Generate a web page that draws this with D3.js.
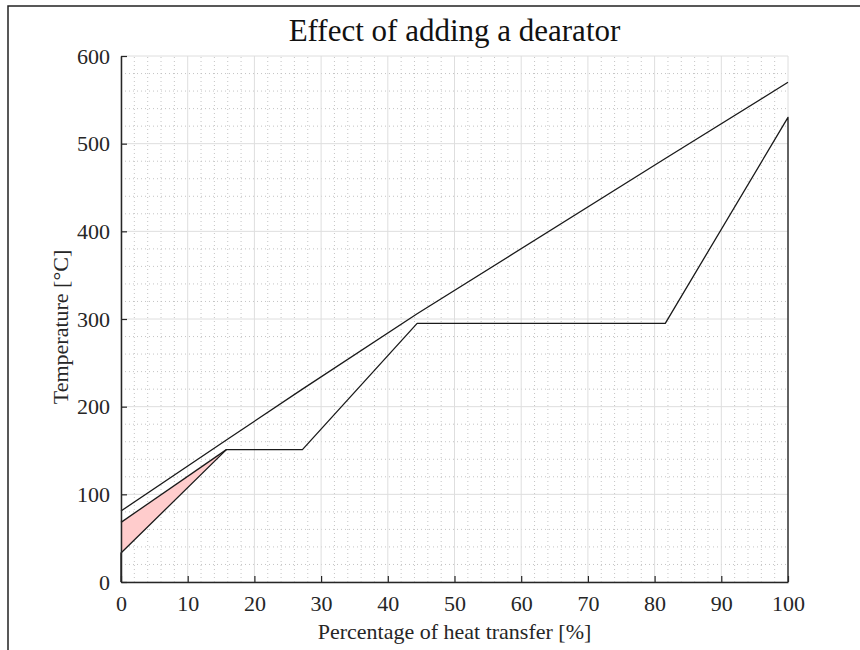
<!DOCTYPE html>
<html>
<head>
<meta charset="utf-8">
<script src="https://cdn.jsdelivr.net/npm/d3@7"></script>
<style>
  body { margin: 0; background: #fff; }
  svg { display: block; font-family: "Liberation Serif", "DejaVu Serif", serif; }
</style>
</head>
<body>
<svg id="chart" width="860" height="650"></svg>
<script>
// heat transfer share [%] and temperatures [°C]
var gasX = [0, 15.8, 27.2, 44.4, 81.6, 100];
var gasT = [81, 162, 220, 306, 483, 570];

var waterX = [0, 0, 15.8, 27.2, 44.4, 81.6, 100, 100];
var waterT = [0, 33, 151, 151, 295, 295, 530, 0];

// feed water line without the dearator
var noDeaX = [0, 15.8];
var noDeaT = [68, 151];

var xTicks = [0, 10, 20, 30, 40, 50, 60, 70, 80, 90, 100];
var yTicks = [0, 100, 200, 300, 400, 500, 600];

var margin = { left: 121, right: 72, top: 56, bottom: 68 };
var W = 860, H = 650;

var svg = d3.select('#chart');

var x = d3.scaleLinear().domain([0, 100]).range([margin.left, W - margin.right]);
var y = d3.scaleLinear().domain([0, 600]).range([H - margin.bottom, margin.top]);

// outer frame (top + left only)
svg.append('path')
    .attr('d', 'M8,650 L8,6 L860,6')
    .attr('fill', 'none')
    .attr('stroke', '#222')
    .attr('stroke-width', 1.5);

// minor grid, dotted
var g = svg.append('g');
g.selectAll('.minor-x').data(d3.range(0, 101, 2).filter(function(d){ return d % 10 !== 0; }))
    .enter().append('line')
    .attr('x1', function(d){ return x(d); }).attr('x2', function(d){ return x(d); })
    .attr('y1', y(0)).attr('y2', y(600))
    .attr('stroke', '#bdbdbd').attr('stroke-width', 0.9).attr('stroke-dasharray', '1,3');
g.selectAll('.minor-y').data(d3.range(0, 601, 20).filter(function(d){ return d % 100 !== 0; }))
    .enter().append('line')
    .attr('x1', x(0)).attr('x2', x(100))
    .attr('y1', function(d){ return y(d); }).attr('y2', function(d){ return y(d); })
    .attr('stroke', '#bdbdbd').attr('stroke-width', 0.9).attr('stroke-dasharray', '1,3');

// major grid
g.selectAll('.major-x').data(xTicks).enter().append('line')
    .attr('x1', function(d){ return x(d); }).attr('x2', function(d){ return x(d); })
    .attr('y1', y(0)).attr('y2', y(600))
    .attr('stroke', '#dedede').attr('stroke-width', 1);
g.selectAll('.major-y').data(yTicks).enter().append('line')
    .attr('x1', x(0)).attr('x2', x(100))
    .attr('y1', function(d){ return y(d); }).attr('y2', function(d){ return y(d); })
    .attr('stroke', '#dedede').attr('stroke-width', 1);

// red patch between the two feed water lines
var patch = [[noDeaX[0], noDeaT[0]], [noDeaX[1], noDeaT[1]], [waterX[1], waterT[1]]];
svg.append('path')
    .attr('d', d3.line().x(function(d){ return x(d[0]); }).y(function(d){ return y(d[1]); })(patch) + 'Z')
    .attr('fill', '#ffcccc')
    .attr('stroke', 'none');

var line = d3.line()
    .x(function(d){ return x(d[0]); })
    .y(function(d){ return y(d[1]); });

function drawLine(xs, ts) {
    svg.append('path')
        .datum(d3.zip(xs, ts))
        .attr('d', line)
        .attr('fill', 'none')
        .attr('stroke', '#1a1a1a')
        .attr('stroke-width', 1.3)
        .attr('stroke-linejoin', 'round');
}
drawLine(gasX, gasT);
drawLine(waterX, waterT);
drawLine(noDeaX, noDeaT);

// axes, ticks pointing inward
var xAxis = svg.append('g')
    .attr('transform', 'translate(0,' + y(0) + ')')
    .call(d3.axisBottom(x).tickValues(xTicks).tickSizeInner(-6).tickSizeOuter(0).tickPadding(13));
var yAxis = svg.append('g')
    .attr('transform', 'translate(' + x(0) + ',0)')
    .call(d3.axisLeft(y).tickValues(yTicks).tickSizeInner(-6).tickSizeOuter(0).tickPadding(11));

[xAxis, yAxis].forEach(function(a){
    a.select('.domain').attr('stroke', '#262626').attr('stroke-width', 1.5);
    a.selectAll('.tick line').attr('stroke', '#262626').attr('stroke-width', 1.2);
    a.selectAll('.tick text')
        .attr('fill', '#262626')
        .style('font-family', '"Liberation Serif", serif')
        .style('font-size', '22px');
});

// title and labels
svg.append('text')
    .attr('x', (x(0) + x(100)) / 2).attr('y', 41)
    .attr('text-anchor', 'middle')
    .attr('fill', '#111')
    .style('font-size', '31px')
    .text('Effect of adding a dearator');

svg.append('text')
    .attr('x', (x(0) + x(100)) / 2).attr('y', 639)
    .attr('text-anchor', 'middle')
    .attr('fill', '#262626')
    .style('font-size', '22px')
    .text('Percentage of heat transfer [%]');

svg.append('text')
    .attr('transform', 'translate(68,' + ((y(0) + y(600)) / 2 + 8) + ') rotate(-90)')
    .attr('text-anchor', 'middle')
    .attr('fill', '#262626')
    .style('font-size', '22px')
    .text('Temperature [°C]');
</script>
</body>
</html>
